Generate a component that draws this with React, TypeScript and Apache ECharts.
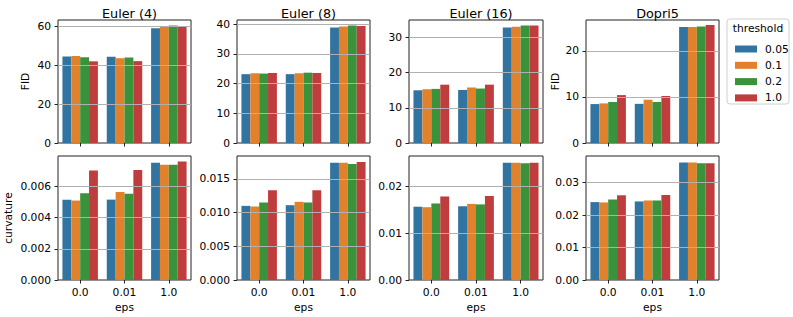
import React, { useEffect, useRef } from "react";
import * as echarts from "echarts";

const methods = ["Euler (4)", "Euler (8)", "Euler (16)", "Dopri5"];
const epsCategories = ["0.0", "0.01", "1.0"];
const thresholds = ["0.05", "0.1", "0.2", "1.0"];
const colors = ["#3274a1", "#e1812c", "#3a923a", "#c03d3e"];

// rows = thresholds, columns = eps categories
const fidEuler4 = [[44.4, 44.3, 58.9], [44.6, 43.5, 59.5], [44.0, 43.9, 60.3], [41.9, 42.0, 59.5]];
const fidEuler8 = [[23.2, 23.2, 38.9], [23.5, 23.5, 39.3], [23.4, 23.7, 39.6], [23.6, 23.6, 39.4]];
const fidEuler16 = [[15.0, 15.1, 32.9], [15.3, 15.8, 33.1], [15.4, 15.5, 33.4], [16.6, 16.6, 33.4]];
const fidDopri5 = [[8.45, 8.5, 25.2], [8.6, 9.4, 25.2], [8.9, 8.9, 25.3], [10.4, 10.2, 25.6]];

const curvEuler4 = [[0.00515, 0.00516, 0.00753], [0.0051, 0.00565, 0.0074], [0.00557, 0.00553, 0.0074], [0.00703, 0.00706, 0.0076]];
const curvEuler8 = [[0.0110, 0.0111, 0.0174], [0.0109, 0.0116, 0.0174], [0.0115, 0.0115, 0.0172], [0.0133, 0.0133, 0.0175]];
const curvEuler16 = [[0.0157, 0.0158, 0.0251], [0.0156, 0.0163, 0.0251], [0.0164, 0.0162, 0.0250], [0.0179, 0.0180, 0.0251]];
const curvDopri5 = [[0.0240, 0.0242, 0.0362], [0.0239, 0.0245, 0.0362], [0.0248, 0.0245, 0.0360], [0.0261, 0.0262, 0.0360]];

const fidData = [fidEuler4, fidEuler8, fidEuler16, fidDopri5];
const curvData = [curvEuler4, curvEuler8, curvEuler16, curvDopri5];

// y-axis extents: [max, interval, decimals]
const fidAxes = [[63.1, 20, 0], [41.45, 10, 0], [35.0, 10, 0], [26.7, 10, 0]];
const curvAxes = [[0.00796, 0.002, 3], [0.0184, 0.005, 3], [0.02657, 0.01, 2], [0.0382, 0.01, 2]];

const FONT = "DejaVu Sans";
const TICK_FS = 10.7;
const TITLE_FS = 12.8;

export default function App() {
  const ref = useRef<HTMLDivElement>(null);
  useEffect(() => {
    document.body.style.margin = "0";
    const chart = echarts.init(ref.current!, null, { renderer: "svg" });
    const colLeft = [58, 237, 409, 586];
    const colWidth = [133, 133, 134, 133];
    const rowTop = [20, 156];
    const rowHeight = [123, 124];

    const grids: any[] = [];
    const xAxes: any[] = [];
    const yAxes: any[] = [];
    const series: any[] = [];
    const titles: any[] = [];

    methods.forEach((m, c) => {
      titles.push({
        text: m,
        left: colLeft[c] + colWidth[c] / 2,
        top: 2,
        textAlign: "center",
        textStyle: { fontFamily: FONT, fontSize: TITLE_FS, fontWeight: "normal", color: "#000" },
      });
    });

    for (let r = 0; r < 2; r++) {
      for (let c = 0; c < 4; c++) {
        const idx = r * 4 + c;
        const [max, interval, dec] = r === 0 ? fidAxes[c] : curvAxes[c];
        grids.push({
          left: colLeft[c],
          top: rowTop[r],
          width: colWidth[c],
          height: rowHeight[r],
          show: true,
          borderColor: "#222",
          borderWidth: 1,
          backgroundColor: "#fff",
        });
        xAxes.push({
          type: "category",
          gridIndex: idx,
          data: epsCategories,
          axisLine: { show: false },
          axisTick: { show: true, alignWithLabel: true, length: 3.5, lineStyle: { color: "#222" } },
          axisLabel: {
            show: r === 1,
            margin: 7,
            fontFamily: FONT,
            fontSize: TICK_FS,
            color: "#000",
          },
          name: r === 1 ? "eps" : "",
          nameLocation: "middle",
          nameGap: 22,
          nameTextStyle: { fontFamily: FONT, fontSize: TICK_FS, color: "#000" },
          splitLine: { show: false },
        });
        let yName = "";
        let yGap = 27;
        if (r === 0 && (c === 0 || c === 3)) { yName = "FID"; yGap = c === 0 ? 27 : 25; }
        if (r === 1 && c === 0) { yName = "curvature"; yGap = 44; }
        yAxes.push({
          type: "value",
          gridIndex: idx,
          min: 0,
          max,
          interval,
          z: 5,
          axisLine: { show: false },
          axisTick: { show: true, length: 3.5, lineStyle: { color: "#222" } },
          axisLabel: {
            margin: 7,
            fontFamily: FONT,
            fontSize: TICK_FS,
            color: "#000",
            showMaxLabel: false,
            formatter: (v: number) => {
              const k = v / interval;
              if (Math.abs(k - Math.round(k)) > 1e-6) return "";
              return v.toFixed(dec);
            },
          },
          splitLine: {
            show: true,
            showMinLine: false,
            showMaxLine: false,
            lineStyle: { color: "#b0b0b0", width: 1 },
          },
          name: yName,
          nameLocation: "middle",
          nameRotate: 90,
          nameGap: yGap,
          nameTextStyle: { fontFamily: FONT, fontSize: TICK_FS, color: "#000" },
        });
        const data = r === 0 ? fidData[c] : curvData[c];
        thresholds.forEach((t, ti) => {
          series.push({
            type: "bar",
            name: t,
            xAxisIndex: idx,
            yAxisIndex: idx,
            data: data[ti],
            barGap: "0%",
            barCategoryGap: "20%",
            itemStyle: { color: colors[ti] },
          });
        });
      }
    }

    chart.setOption({
      animation: false,
      textStyle: { fontFamily: FONT },
      title: titles,
      grid: grids,
      xAxis: xAxes,
      yAxis: yAxes,
      series,
      legend: {
        data: thresholds,
        orient: "vertical",
        left: 730,
        top: 38,
        itemWidth: 22,
        itemHeight: 7,
        itemGap: 4.3,
        icon: "rect",
        selectedMode: false,
        textStyle: { fontFamily: FONT, fontSize: TICK_FS, color: "#000", lineHeight: 12, padding: [0, 0, 0, 3] },
      },
      graphic: [
        {
          type: "rect",
          z: -1,
          shape: { x: 727, y: 19, width: 62, height: 85, r: 3 },
          style: { fill: "#fff", stroke: "#d0d0d0", lineWidth: 1 },
        },
        {
          type: "text",
          x: 758,
          y: 28.5,
          style: {
            text: "threshold",
            fontFamily: FONT,
            fontSize: TICK_FS,
            fill: "#000",
            textAlign: "center",
            textVerticalAlign: "middle",
          },
        },
      ],
    });
    return () => chart.dispose();
  }, []);
  return <div ref={ref} style={{ width: 793, height: 317 }} />;
}
